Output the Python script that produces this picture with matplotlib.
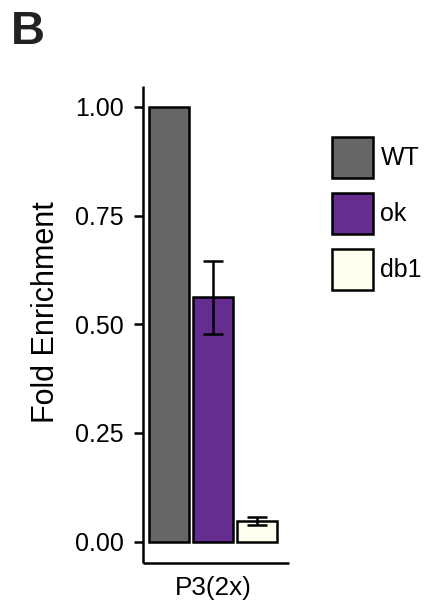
import matplotlib
matplotlib.use("Agg")
import matplotlib.pyplot as plt

plt.rcParams['font.family'] = ['Liberation Sans', 'DejaVu Sans']

# Data
category = "P3(2x)"
genotypes = ["WT", "ok", "db1"]
fold_enrichment = [1.00, 0.562, 0.048]
fold_error = [0.0, 0.084, 0.009]
fill_colors = ["#666666", "#662D91", "#FFFFF0"]
y_ticks = [0.00, 0.25, 0.50, 0.75, 1.00]
y_tick_labels = ["0.00", "0.25", "0.50", "0.75", "1.00"]

W, H = 427, 605
fig = plt.figure(figsize=(W / 100, H / 100), dpi=100)
ax = fig.add_axes([143 / W, 42 / H, 146 / W, 477 / H])

spacing = 0.359
bar_w = 0.329
offsets = [(i - 1) * spacing for i in range(len(genotypes))]

for off, val, err, col, lab in zip(offsets, fold_enrichment, fold_error, fill_colors, genotypes):
    ax.bar(off, val, width=bar_w, color=col, edgecolor="black", linewidth=1.8, label=lab, zorder=2)
    if err > 0:
        ax.errorbar(off, val, yerr=err, fmt="none", ecolor="black", elinewidth=1.8,
                    capsize=7.5, capthick=1.8, zorder=3)

ax.set_xlim(-0.575, 0.625)
ax.set_ylim(-0.049, 1.048)
ax.set_xticks([0])
ax.set_xticklabels([category], fontsize=18.8)
ax.set_yticks(y_ticks)
ax.set_yticklabels(y_tick_labels, fontsize=18)

for side in ("top", "right"):
    ax.spines[side].set_visible(False)
for side in ("left", "bottom"):
    ax.spines[side].set_linewidth(1.8)
    ax.spines[side].set_capstyle("butt")

ax.tick_params(axis="y", length=6.5, width=1.8, pad=7.5, colors="black")
ax.tick_params(axis="x", length=0, pad=9, colors="black")

ax.set_ylabel("Fold Enrichment", fontsize=22, va="center")
ax.yaxis.set_label_coords(-0.665, 0.526)

leg = ax.legend(loc="upper left", bbox_to_anchor=(332 / W, 1 - 137 / H),
                bbox_transform=fig.transFigure, frameon=False, fontsize=18,
                handlelength=1.64, handleheight=2.146, handletextpad=0.3,
                labelspacing=0.6, borderpad=0, borderaxespad=0)

fig.text(11 / W, 1 - 10 / H, "B", fontsize=34, fontweight="bold", va="top", ha="left",
         color="#222222")

fig.savefig("out.png", dpi=100)
